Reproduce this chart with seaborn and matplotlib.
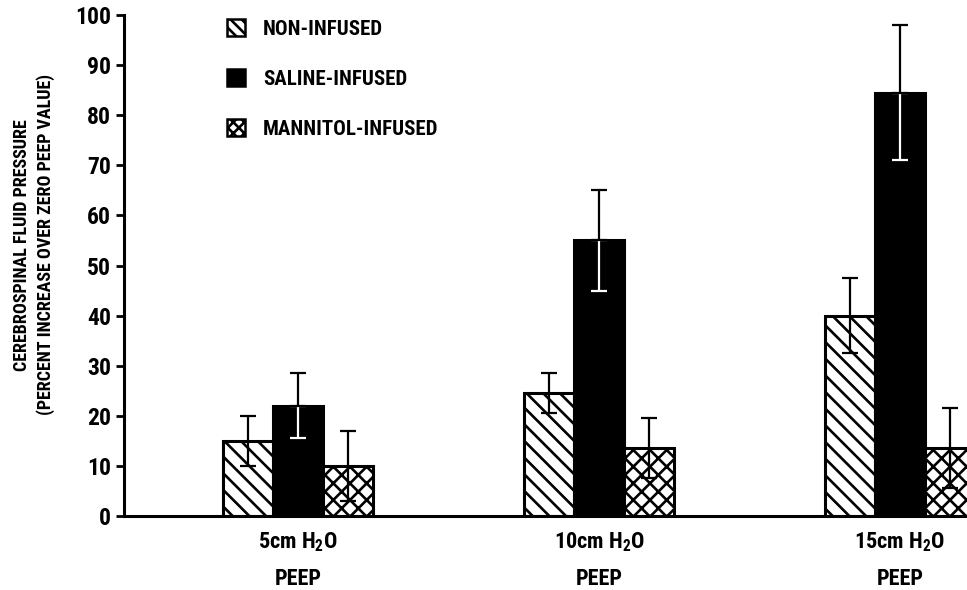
import matplotlib
matplotlib.use("Agg")
import matplotlib.pyplot as plt
from matplotlib import font_manager
from matplotlib.patches import Patch
import seaborn as sns
import pandas as pd

# values
peep_levels = ["5cm H$_2$O\nPEEP", "10cm H$_2$O\nPEEP", "15cm H$_2$O\nPEEP"]
groups = ["NON-INFUSED", "SALINE-INFUSED", "MANNITOL-INFUSED"]
non_infused = [15, 24.5, 40]
saline_infused = [22, 55, 84.5]
mannitol_infused = [10, 13.5, 13.5]
non_err = [5, 4, 7.5]
saline_err = [6.5, 10, 13.5]
mannitol_err = [7, 6, 8]

means = [non_infused, saline_infused, mannitol_infused]
errs = [non_err, saline_err, mannitol_err]

rows = []
for g, vals in zip(groups, means):
    for p, v in zip(peep_levels, vals):
        rows.append({"peep": p, "group": g, "value": v})
df = pd.DataFrame(rows)

# pick a narrow bold sans if one is installed
installed = {f.name for f in font_manager.fontManager.ttflist}
wanted = ["Roboto Condensed", "Archivo Narrow", "Liberation Sans Narrow",
          "PT Sans Narrow", "Saira Condensed"]
narrow = [n for n in wanted if n in installed][:1]

sns.set_style("ticks")
plt.rcParams["font.family"] = narrow + ["DejaVu Sans"]
plt.rcParams["font.stretch"] = "condensed"
plt.rcParams["font.weight"] = "bold"
plt.rcParams["axes.labelweight"] = "bold"
plt.rcParams["text.color"] = "black"
plt.rcParams["xtick.color"] = "black"
plt.rcParams["ytick.color"] = "black"
plt.rcParams["axes.labelcolor"] = "black"
plt.rcParams["axes.edgecolor"] = "black"
plt.rcParams["mathtext.default"] = "regular"
plt.rcParams["hatch.linewidth"] = 1.9
plt.rcParams["hatch.color"] = "black"

fig = plt.figure(figsize=(9.67, 5.9), dpi=100)
ax = fig.add_axes([0.128, 0.1254, 0.872, 0.8492])

face_colors = ["white", "black", "white"]
hatches = ["\\\\", "", "xx"]
legend_hatches = ["\\\\\\", "", "xxx"]

sns.barplot(data=df, x="peep", y="value", hue="group", hue_order=groups,
            order=peep_levels, width=0.5, palette=face_colors,
            edgecolor="black", linewidth=2.2, saturation=1, legend=False, ax=ax)

bar_groups = list(ax.containers)
for i, cont in enumerate(bar_groups):
    for j, bar in enumerate(cont):
        bar.set_hatch(hatches[i])
        bar.set_linewidth(2.2)
        x = bar.get_x() + bar.get_width() / 2
        y = means[i][j]
        e = errs[i][j]
        if face_colors[i] == "black":
            # inside the black bar the lower whisker shows white
            ax.errorbar(x, y, yerr=[[e], [0]], fmt="none", ecolor="white",
                        elinewidth=1.6, capsize=6, capthick=1.6, zorder=4)
            ax.errorbar(x, y, yerr=[[0], [e]], fmt="none", ecolor="black",
                        elinewidth=1.6, capsize=6, capthick=1.6, zorder=5)
        else:
            ax.errorbar(x, y, yerr=e, fmt="none", ecolor="black",
                        elinewidth=1.6, capsize=6, capthick=1.6, zorder=5)

ax.set_xlim(-0.58, 2.223)
ax.set_ylim(0, 100)
ax.set_yticks(range(0, 101, 10))
ax.tick_params(axis="y", direction="out", length=6, width=2, pad=3, labelsize=17)
ax.tick_params(axis="x", length=0, pad=10, labelsize=16)
for lab in ax.get_xticklabels():
    lab.set_linespacing(1.85)

sns.despine(ax=ax)
ax.spines["left"].set_linewidth(2.2)
ax.spines["bottom"].set_linewidth(2.2)

ax.set_xlabel("")
ax.set_ylabel("CEREBROSPINAL FLUID PRESSURE\n(PERCENT INCREASE OVER ZERO PEEP VALUE)",
              fontsize=13, linespacing=1.3)
ax.yaxis.set_label_coords(-0.082, 0.541)

handles = [Patch(facecolor=face_colors[i], edgecolor="black", hatch=legend_hatches[i],
                 linewidth=1.8, label=groups[i]) for i in range(3)]
leg = ax.legend(handles=handles, loc="upper left", bbox_to_anchor=(0.112, 1.008),
                frameon=False, fontsize=15, handlelength=0.87, handleheight=0.87,
                labelspacing=1.46, handletextpad=0.87, borderaxespad=0)

fig.savefig("out.png", dpi=100)
